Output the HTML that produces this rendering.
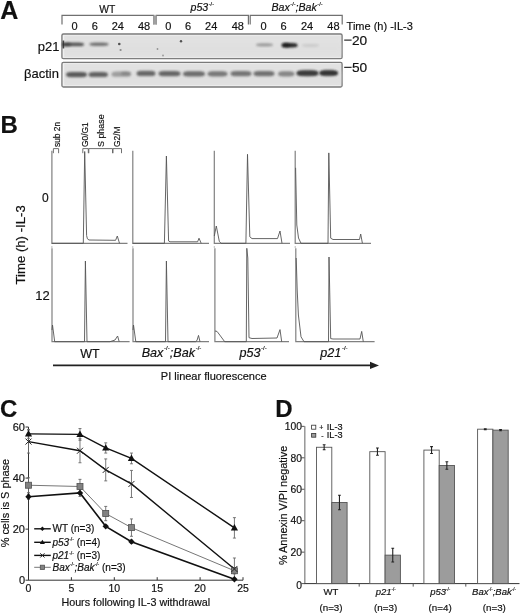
<!DOCTYPE html>
<html><head><meta charset="utf-8"><style>
html,body{margin:0;padding:0;background:#fff;}
svg{display:block;will-change:transform;}
text{font-family:"Liberation Sans",sans-serif;fill:#111;stroke:#111;stroke-width:0.18px;}
</style></head><body>
<svg width="520" height="614" viewBox="0 0 520 614">
<defs><filter id="blur1" x="-50%" y="-50%" width="200%" height="200%"><feGaussianBlur stdDeviation="1.1"/></filter><filter id="blur2" x="-10%" y="-50%" width="120%" height="200%"><feGaussianBlur stdDeviation="2"/></filter><filter id="blur05" x="-50%" y="-50%" width="200%" height="200%"><feGaussianBlur stdDeviation="0.5"/></filter></defs>
<rect width="520" height="614" fill="#fff"/>
<text x="0.3" y="18.9" font-size="25" font-weight="bold">A</text>
<text x="107.3" y="12.6" font-size="10.3" text-anchor="middle">WT</text>
<text x="190.5" y="10.8" font-size="10.6" font-style="italic">p53<tspan font-size="5.5" dx="0.6" dy="-5" font-style="normal">-/-</tspan></text>
<text x="271.5" y="10.8" font-size="10.6" font-style="italic">Bax<tspan font-size="5.5" dx="0.6" dy="-5" font-style="normal">-/-</tspan><tspan dy="5">;Bak</tspan><tspan font-size="5.5" dx="0.6" dy="-5" font-style="normal">-/-</tspan></text>
<path d="M62,24.4 V15.4 H153.8 V24.4" stroke="#707070" stroke-width="1.2" fill="none"/>
<path d="M156.2,24.4 V15.4 H248.4 V24.4" stroke="#707070" stroke-width="1.2" fill="none"/>
<path d="M250.2,24.4 V15.4 H342.2 V24.4" stroke="#707070" stroke-width="1.2" fill="none"/>
<rect x="153.2" y="15.5" width="3.6" height="9" fill="#a0a0a0"/>
<text x="74.6" y="30" font-size="11" text-anchor="middle">0</text>
<text x="94.7" y="30" font-size="11" text-anchor="middle">6</text>
<text x="117.8" y="30" font-size="11" text-anchor="middle">24</text>
<text x="144" y="30" font-size="11" text-anchor="middle">48</text>
<text x="168.2" y="30" font-size="11" text-anchor="middle">0</text>
<text x="188.1" y="30" font-size="11" text-anchor="middle">6</text>
<text x="211.2" y="30" font-size="11" text-anchor="middle">24</text>
<text x="237.8" y="30" font-size="11" text-anchor="middle">48</text>
<text x="263.5" y="30" font-size="11" text-anchor="middle">0</text>
<text x="283.5" y="30" font-size="11" text-anchor="middle">6</text>
<text x="307" y="30" font-size="11" text-anchor="middle">24</text>
<text x="333.4" y="30" font-size="11" text-anchor="middle">48</text>
<text x="346.6" y="30.2" font-size="11">Time (h) -IL-3</text>
<text x="59.4" y="51.3" font-size="13" text-anchor="end">p21</text>
<text x="58.9" y="78.3" font-size="13" text-anchor="end">&#946;actin</text>
<path d="M344.2,40.2 H351.6 M344.2,67.3 H351.6" stroke="#333" stroke-width="1.2"/>
<text x="352" y="44.6" font-size="13.7">20</text>
<text x="352" y="72.4" font-size="13.7">50</text>
<rect x="61.9" y="34.0" width="280.2" height="24.7" rx="1.5" fill="#e2e2e2" stroke="#7a7a7a" stroke-width="1.3"/>
<rect x="63.2" y="35.199999999999996" width="1" height="22.299999999999997" fill="#f6f6f6"/>
<rect x="63.5" y="34.9" width="277" height="0.8" fill="#f2f2f2" opacity="0.8"/>
<rect x="63.5" y="56.9" width="277" height="0.8" fill="#f2f2f2" opacity="0.8"/>
<rect x="64" y="42.464999999999996" width="277" height="12.95" fill="#ddd" opacity="0.5" filter="url(#blur2)"/>
<rect x="61.9" y="62.4" width="280.2" height="24.599999999999998" rx="1.5" fill="#e2e2e2" stroke="#7a7a7a" stroke-width="1.3"/>
<rect x="63.2" y="63.599999999999994" width="1" height="22.199999999999996" fill="#f6f6f6"/>
<rect x="63.5" y="63.3" width="277" height="0.8" fill="#f2f2f2" opacity="0.8"/>
<rect x="63.5" y="85.19999999999999" width="277" height="0.8" fill="#f2f2f2" opacity="0.8"/>
<rect x="64" y="70.83" width="277" height="12.899999999999999" fill="#ddd" opacity="0.5" filter="url(#blur2)"/>
<rect x="62" y="42.6" width="22" height="3.6" rx="5" ry="1.8" fill="#222" opacity="0.7" filter="url(#blur1)"/>
<rect x="89.5" y="42.5" width="19.0" height="3.4" rx="5" ry="1.7" fill="#222" opacity="0.56" filter="url(#blur1)"/>
<rect x="256" y="43.199999999999996" width="17" height="3.2" rx="5" ry="1.6" fill="#222" opacity="0.35" filter="url(#blur1)"/>
<rect x="282" y="43.0" width="15.5" height="4.4" rx="5" ry="2.2" fill="#222" opacity="0.95" filter="url(#blur1)"/>
<rect x="302" y="44.1" width="17" height="2.8" rx="5" ry="1.4" fill="#222" opacity="0.1" filter="url(#blur1)"/>
<ellipse cx="285.5" cy="45.2" rx="4" ry="2.4" fill="#111" opacity="0.5" filter="url(#blur1)"/>
<ellipse cx="67" cy="44.5" rx="4" ry="2" fill="#111" opacity="0.35" filter="url(#blur1)"/>
<circle cx="119.3" cy="44" r="1.3" fill="#222" opacity="0.75" filter="url(#blur05)"/>
<circle cx="120.6" cy="50" r="1.1" fill="#222" opacity="0.45" filter="url(#blur05)"/>
<circle cx="157.5" cy="49" r="0.9" fill="#222" opacity="0.4" filter="url(#blur05)"/>
<circle cx="163" cy="55.6" r="1.0" fill="#222" opacity="0.35" filter="url(#blur05)"/>
<circle cx="181" cy="41.3" r="1.2" fill="#222" opacity="0.75" filter="url(#blur05)"/>
<rect x="62.6" y="40.5" width="1.6" height="8" fill="#222" opacity="0.8" filter="url(#blur05)"/>
<rect x="66.0" y="72.0" width="21.0" height="5.2" rx="5" ry="2.6" fill="#222" opacity="0.7" filter="url(#blur1)"/>
<rect x="88.5" y="71.9" width="19.5" height="5.2" rx="5" ry="2.6" fill="#222" opacity="0.66" filter="url(#blur1)"/>
<rect x="111.5" y="71.60000000000001" width="19.5" height="5.2" rx="5" ry="2.6" fill="#222" opacity="0.34" filter="url(#blur1)"/>
<rect x="136.5" y="70.80000000000001" width="19" height="5.2" rx="5" ry="2.6" fill="#222" opacity="0.63" filter="url(#blur1)"/>
<rect x="158.5" y="71.0" width="22" height="5.2" rx="5" ry="2.6" fill="#222" opacity="0.64" filter="url(#blur1)"/>
<rect x="183.0" y="71.2" width="22.0" height="5.2" rx="5" ry="2.6" fill="#222" opacity="0.6" filter="url(#blur1)"/>
<rect x="207.5" y="71.2" width="20" height="5.2" rx="5" ry="2.6" fill="#222" opacity="0.54" filter="url(#blur1)"/>
<rect x="230.5" y="71.0" width="21" height="5.2" rx="5" ry="2.6" fill="#222" opacity="0.56" filter="url(#blur1)"/>
<rect x="253.5" y="71.0" width="21" height="5.2" rx="5" ry="2.6" fill="#222" opacity="0.58" filter="url(#blur1)"/>
<rect x="278.0" y="71.2" width="16.5" height="5.2" rx="5" ry="2.6" fill="#222" opacity="0.47" filter="url(#blur1)"/>
<rect x="296.5" y="70.60000000000001" width="22" height="5.2" rx="5" ry="2.6" fill="#222" opacity="0.8" filter="url(#blur1)"/>
<rect x="319.5" y="70.4" width="18.5" height="5.2" rx="5" ry="2.6" fill="#222" opacity="0.86" filter="url(#blur1)"/>
<ellipse cx="307.5" cy="73.2" rx="10" ry="3.3" fill="#222" opacity="0.35" filter="url(#blur1)"/>
<ellipse cx="328.5" cy="73.0" rx="9" ry="3.3" fill="#222" opacity="0.4" filter="url(#blur1)"/>
<ellipse cx="126" cy="73.3" rx="5" ry="2" fill="#222" opacity="0.2" filter="url(#blur1)"/>
<text x="0.5" y="132.8" font-size="24" font-weight="bold">B</text>
<text transform="translate(60.4,147) rotate(-90)" font-size="8.4">sub 2n</text>
<text transform="translate(88.4,147) rotate(-90)" font-size="8.4">G0/G1</text>
<text transform="translate(103.6,147) rotate(-90)" font-size="8.9">S phase</text>
<text transform="translate(120.4,147) rotate(-90)" font-size="8.4">G2/M</text>
<path d="M53.4,153.2 V148.6 H58.6 V153.2" stroke="#606060" stroke-width="0.9" fill="none"/>
<path d="M82.8,153.2 V148.6 H88.3 V153.2" stroke="#606060" stroke-width="0.9" fill="none"/>
<path d="M88.8,153.2 V148.6 H112.5 V153.2" stroke="#606060" stroke-width="0.9" fill="none"/>
<path d="M113,153.2 V148.6 H121.5 V153.2" stroke="#606060" stroke-width="0.9" fill="none"/>
<text transform="translate(25.2,284.6) rotate(-90)" font-size="13.2">Time (h) -IL-3</text>
<text x="45.3" y="202" font-size="12" text-anchor="middle">0</text>
<text x="42.4" y="300.2" font-size="13" text-anchor="middle">12</text>
<path d="M51.9,150.8 V243.3 H127.5" stroke="#808080" stroke-width="1.2" fill="none"/>
<path d="M51.9,243.3 L83.3,243.3 L84.7,151.5 L86.6,235.5 L87.4,238.8 L89,240 L115.6,240.3 L117.3,236 L118.9,241.3 L119.5,243.3" stroke="#555" stroke-width="0.9" fill="none"/>
<path d="M132.8,150.8 V243.3 H209" stroke="#808080" stroke-width="1.2" fill="none"/>
<path d="M132.8,243.3 L164.4,243.3 L166.4,156 L168.6,241 L170,241.8 L197.6,241.8 L199,238.2 L201.2,243.3" stroke="#555" stroke-width="0.9" fill="none"/>
<path d="M214.3,150.8 V243.3 H290" stroke="#808080" stroke-width="1.2" fill="none"/>
<path d="M214.3,236 L216.3,226 L219.3,241.3 L221,243.3 L245.9,243.3 L247.5,154.3 L249.8,236.8 L252,238.6 L277.5,238.6 L280,231 L282,243.3" stroke="#555" stroke-width="0.9" fill="none"/>
<path d="M295.2,150.8 V243.3 H371" stroke="#808080" stroke-width="1.2" fill="none"/>
<path d="M295.6,167.8 L296.8,225 L298.5,238 L301,243.3 L328,243.3 L328.8,152.9 L330.7,238.2 L333,239.5 L359.5,239.5 L360.7,234 L362.4,243.3" stroke="#555" stroke-width="0.9" fill="none"/>
<path d="M52,248.3 V341.7 H129.6" stroke="#808080" stroke-width="1.2" fill="none"/>
<path d="M52,330 L52.5,325 L54.7,341.7 L84.5,341.7 L85.4,261 L87,341.7 L110,341.7 L115,340 L117.6,336 L119.2,341.7" stroke="#555" stroke-width="0.9" fill="none"/>
<path d="M133,248.3 V341.7 H209" stroke="#808080" stroke-width="1.2" fill="none"/>
<path d="M133,330 L133.5,325 L135.8,341.7 L165.5,341.7 L166.4,261 L168,341.7 L195.5,341.7 L197,340.5 L198.5,335.4 L200,341.7" stroke="#555" stroke-width="0.9" fill="none"/>
<path d="M214.9,248.3 V341.7 H289" stroke="#808080" stroke-width="1.2" fill="none"/>
<path d="M215,331 L217,331.4 L219,334 L224.7,341.7 L246.3,341.7 L246.8,248.3 L247.8,258 L249,337.7 L252,338.5 L277,338 L280,329.6 L281.7,341.7" stroke="#555" stroke-width="0.9" fill="none"/>
<path d="M295.8,248.3 V341.7 H374.6" stroke="#808080" stroke-width="1.2" fill="none"/>
<path d="M296.2,258 L297.2,290 L298.4,315 L301,336.8 L304,341.7 L328.5,341.7 L329,257 L330.7,338.6 L333,339 L360,339 L361.7,331.4 L363.3,341.7" stroke="#555" stroke-width="0.9" fill="none"/>
<path d="M51.9,246 V248" stroke="#aaa" stroke-width="0.8"/>
<path d="M132.8,246 V248" stroke="#aaa" stroke-width="0.8"/>
<path d="M214.3,246 V248" stroke="#aaa" stroke-width="0.8"/>
<path d="M295.2,246 V248" stroke="#aaa" stroke-width="0.8"/>
<text x="90" y="357.7" font-size="12.5" text-anchor="middle">WT</text>
<text x="141.7" y="357.4" font-size="12.6" font-style="italic">Bax<tspan font-size="6" dx="0.7" dy="-7.5" font-style="normal">-/-</tspan><tspan dy="7.5">;Bak</tspan><tspan font-size="6" dx="0.7" dy="-7.5" font-style="normal">-/-</tspan></text>
<text x="239.4" y="357.4" font-size="12.6" font-style="italic">p53<tspan font-size="6" dx="0.7" dy="-7.5" font-style="normal">-/-</tspan></text>
<text x="320.2" y="357.4" font-size="12.6" font-style="italic">p21<tspan font-size="6" dx="0.7" dy="-7.5" font-style="normal">-/-</tspan></text>
<path d="M53,365.4 H372" stroke="#222" stroke-width="1.6"/>
<path d="M370,361.8 L379,365.4 L370,369 Z" fill="#222"/>
<text x="160.8" y="380.3" font-size="11">PI linear fluorescence</text>
<text x="0" y="417.2" font-size="24" font-weight="bold">C</text>
<path d="M28.5,427.02000000000004 V580.2 H243.0" stroke="#333" stroke-width="1" fill="none"/>
<path d="M25.5,580.2 H28.5" stroke="#333" stroke-width="1"/>
<text x="25.0" y="583.8000000000001" font-size="11" text-anchor="end">0</text>
<path d="M25.5,529.1400000000001 H28.5" stroke="#333" stroke-width="1"/>
<text x="25.0" y="532.7400000000001" font-size="11" text-anchor="end">20</text>
<path d="M25.5,478.08000000000004 H28.5" stroke="#333" stroke-width="1"/>
<text x="25.0" y="481.68000000000006" font-size="11" text-anchor="end">40</text>
<path d="M25.5,427.02000000000004 H28.5" stroke="#333" stroke-width="1"/>
<text x="25.0" y="430.62000000000006" font-size="11" text-anchor="end">60</text>
<path d="M28.5,580.2 V577.2" stroke="#333" stroke-width="1"/>
<text x="28.5" y="592.2" font-size="10.5" text-anchor="middle">0</text>
<path d="M71.4,580.2 V577.2" stroke="#333" stroke-width="1"/>
<text x="71.4" y="592.2" font-size="10.5" text-anchor="middle">5</text>
<path d="M114.3,580.2 V577.2" stroke="#333" stroke-width="1"/>
<text x="114.3" y="592.2" font-size="10.5" text-anchor="middle">10</text>
<path d="M157.2,580.2 V577.2" stroke="#333" stroke-width="1"/>
<text x="157.2" y="592.2" font-size="10.5" text-anchor="middle">15</text>
<path d="M200.1,580.2 V577.2" stroke="#333" stroke-width="1"/>
<text x="200.1" y="592.2" font-size="10.5" text-anchor="middle">20</text>
<path d="M243.0,580.2 V577.2" stroke="#333" stroke-width="1"/>
<text x="243.0" y="592.2" font-size="10.5" text-anchor="middle">25</text>
<text x="61.4" y="606.4" font-size="10.75">Hours following IL-3 withdrawal</text>
<text transform="translate(9.2,547.3) rotate(-90)" font-size="10.9">% cells is S phase</text>
<path d="M28.5,429.57300000000004 V438.25320000000005 M27.0,429.57300000000004 H30.0 M27.0,438.25320000000005 H30.0" stroke="#6a6a6a" stroke-width="0.9"/>
<path d="M79.98,428.55180000000007 V440.29560000000004 M78.48,428.55180000000007 H81.48 M78.48,440.29560000000004 H81.48" stroke="#6a6a6a" stroke-width="0.9"/>
<path d="M105.72,442.84860000000003 V453.0606 M104.22,442.84860000000003 H107.22 M104.22,453.0606 H107.22" stroke="#6a6a6a" stroke-width="0.9"/>
<path d="M131.46,453.0606 V463.7832000000001 M129.96,453.0606 H132.96 M129.96,463.7832000000001 H132.96" stroke="#6a6a6a" stroke-width="0.9"/>
<path d="M234.42000000000002,517.6515 V538.0755 M232.92000000000002,517.6515 H235.92000000000002 M232.92000000000002,538.0755 H235.92000000000002" stroke="#6a6a6a" stroke-width="0.9"/>
<path d="M28.5,430.08360000000005 V453.0606 M27.0,430.08360000000005 H30.0 M27.0,453.0606 H30.0" stroke="#6a6a6a" stroke-width="0.9"/>
<path d="M79.98,438.76380000000006 V462.76200000000006 M78.48,438.76380000000006 H81.48 M78.48,462.76200000000006 H81.48" stroke="#6a6a6a" stroke-width="0.9"/>
<path d="M105.72,458.93250000000006 V480.8883 M104.22,458.93250000000006 H107.22 M104.22,480.8883 H107.22" stroke="#6a6a6a" stroke-width="0.9"/>
<path d="M131.46,470.42100000000005 V497.48280000000005 M129.96,470.42100000000005 H132.96 M129.96,497.48280000000005 H132.96" stroke="#6a6a6a" stroke-width="0.9"/>
<path d="M234.42000000000002,557.9889000000001 V579.9447 M232.92000000000002,557.9889000000001 H235.92000000000002 M232.92000000000002,579.9447 H235.92000000000002" stroke="#6a6a6a" stroke-width="0.9"/>
<path d="M28.5,477.82470000000006 V492.63210000000004 M27.0,477.82470000000006 H30.0 M27.0,492.63210000000004 H30.0" stroke="#6a6a6a" stroke-width="0.9"/>
<path d="M79.98,479.35650000000004 V493.65330000000006 M78.48,479.35650000000004 H81.48 M78.48,493.65330000000006 H81.48" stroke="#6a6a6a" stroke-width="0.9"/>
<path d="M105.72,506.41830000000004 V520.7151 M104.22,506.41830000000004 H107.22 M104.22,520.7151 H107.22" stroke="#6a6a6a" stroke-width="0.9"/>
<path d="M131.46,518.928 V536.2884 M129.96,518.928 H132.96 M129.96,536.2884 H132.96" stroke="#6a6a6a" stroke-width="0.9"/>
<path d="M234.42000000000002,567.6903000000001 V573.8175 M232.92000000000002,567.6903000000001 H235.92000000000002 M232.92000000000002,573.8175 H235.92000000000002" stroke="#6a6a6a" stroke-width="0.9"/>
<path d="M28.5,494.1639 V499.2699 M27.0,494.1639 H30.0 M27.0,499.2699 H30.0" stroke="#6a6a6a" stroke-width="0.9"/>
<path d="M79.98,489.31320000000005 V496.46160000000003 M78.48,489.31320000000005 H81.48 M78.48,496.46160000000003 H81.48" stroke="#6a6a6a" stroke-width="0.9"/>
<path d="M105.72,525.0552 V527.6082 M104.22,525.0552 H107.22 M104.22,527.6082 H107.22" stroke="#6a6a6a" stroke-width="0.9"/>
<path d="M131.46,540.1179000000001 V543.1815 M129.96,540.1179000000001 H132.96 M129.96,543.1815 H132.96" stroke="#6a6a6a" stroke-width="0.9"/>
<path d="M234.42000000000002,578.4129 V579.9447 M232.92000000000002,578.4129 H235.92000000000002 M232.92000000000002,579.9447 H235.92000000000002" stroke="#6a6a6a" stroke-width="0.9"/>
<path d="M28.50,485.23 L79.98,486.50 L105.72,513.57 L131.46,527.61 L234.42,570.75" stroke="#777" stroke-width="1.0" fill="none"/>
<path d="M28.50,441.57 L79.98,450.76 L105.72,469.91 L131.46,483.95 L234.42,568.97" stroke="#111" stroke-width="1.4" fill="none"/>
<path d="M28.50,433.91 L79.98,434.42 L105.72,447.95 L131.46,458.42 L234.42,527.86" stroke="#111" stroke-width="1.4" fill="none"/>
<path d="M28.50,496.72 L79.98,492.89 L105.72,526.33 L131.46,541.65 L234.42,579.18" stroke="#111" stroke-width="1.6" fill="none"/>
<rect x="25.5" y="482.2284" width="6.0" height="6.0" fill="#828282" stroke="#505050" stroke-width="0.8"/>
<rect x="76.98" y="483.5049" width="6.0" height="6.0" fill="#828282" stroke="#505050" stroke-width="0.8"/>
<rect x="102.72" y="510.5667000000001" width="6.0" height="6.0" fill="#828282" stroke="#505050" stroke-width="0.8"/>
<rect x="128.46" y="524.6082" width="6.0" height="6.0" fill="#828282" stroke="#505050" stroke-width="0.8"/>
<rect x="231.42000000000002" y="567.7539" width="6.0" height="6.0" fill="#828282" stroke="#505050" stroke-width="0.8"/>
<path d="M25.5,438.5721000000001 L31.5,444.5721000000001 M25.5,444.5721000000001 L31.5,438.5721000000001" stroke="#222" stroke-width="1"/>
<path d="M76.98,447.76290000000006 L82.98,453.76290000000006 M76.98,453.76290000000006 L82.98,447.76290000000006" stroke="#222" stroke-width="1"/>
<path d="M102.72,466.91040000000004 L108.72,472.91040000000004 M102.72,472.91040000000004 L108.72,466.91040000000004" stroke="#222" stroke-width="1"/>
<path d="M128.46,480.9519 L134.46,486.9519 M128.46,486.9519 L134.46,480.9519" stroke="#222" stroke-width="1"/>
<path d="M231.42000000000002,565.9668 L237.42000000000002,571.9668 M231.42000000000002,571.9668 L237.42000000000002,565.9668" stroke="#222" stroke-width="1"/>
<path d="M28.5,430.11310000000003 L32.1,436.51310000000007 L24.9,436.51310000000007 Z" fill="#111"/>
<path d="M79.98,430.62370000000004 L83.58,437.0237000000001 L76.38000000000001,437.0237000000001 Z" fill="#111"/>
<path d="M105.72,444.1546 L109.32,450.55460000000005 L102.12,450.55460000000005 Z" fill="#111"/>
<path d="M131.46,454.62190000000004 L135.06,461.0219000000001 L127.86000000000001,461.0219000000001 Z" fill="#111"/>
<path d="M234.42000000000002,524.0635000000001 L238.02,530.4635000000001 L230.82000000000002,530.4635000000001 Z" fill="#111"/>
<path d="M28.5,493.5169 L31.7,496.7169 L28.5,499.9169 L25.3,496.7169 Z" fill="#111"/>
<path d="M79.98,489.6874000000001 L83.18,492.88740000000007 L79.98,496.08740000000006 L76.78,492.88740000000007 Z" fill="#111"/>
<path d="M105.72,523.1317 L108.92,526.3317000000001 L105.72,529.5317000000001 L102.52,526.3317000000001 Z" fill="#111"/>
<path d="M131.46,538.4497 L134.66,541.6497 L131.46,544.8497000000001 L128.26000000000002,541.6497 Z" fill="#111"/>
<path d="M234.42000000000002,575.9788 L237.62,579.1788 L234.42000000000002,582.3788000000001 L231.22000000000003,579.1788 Z" fill="#111"/>
<path d="M34.2,528.8 H50.8" stroke="#111" stroke-width="1.4"/>
<path d="M42.4,526.56 L44.64,528.8 L42.4,531.04 L40.16,528.8 Z" fill="#111"/>
<text x="52.5" y="532.4" font-size="10"><tspan>WT (n=3)</tspan></text>
<path d="M34.2,542.3 H50.8" stroke="#111" stroke-width="1.4"/>
<path d="M42.4,539.64 L44.92,544.12 L39.879999999999995,544.12 Z" fill="#111"/>
<text x="52.5" y="545.9" font-size="10"><tspan font-style="italic">p53</tspan><tspan font-size="5" dy="-4.5">-/-</tspan><tspan dy="4.5"> (n=4)</tspan></text>
<path d="M34.2,555.4 H50.8" stroke="#111" stroke-width="1.4"/>
<path d="M40.3,553.3 L44.5,557.5 M40.3,557.5 L44.5,553.3" stroke="#222" stroke-width="1"/>
<text x="52.5" y="559.0" font-size="10"><tspan font-style="italic">p21</tspan><tspan font-size="5" dy="-4.5">-/-</tspan><tspan dy="4.5"> (n=3)</tspan></text>
<path d="M34.2,567.3 H50.8" stroke="#777" stroke-width="1.0"/>
<rect x="40.3" y="565.1999999999999" width="4.199999999999999" height="4.199999999999999" fill="#828282" stroke="#505050" stroke-width="0.8"/>
<text x="52.5" y="570.9" font-size="10"><tspan font-style="italic">Bax</tspan><tspan font-size="5" dy="-4.5">-/-</tspan><tspan dy="4.5" font-style="italic">;Bak</tspan><tspan font-size="5" dy="-4.5">-/-</tspan><tspan dy="4.5"> (n=3)</tspan></text>
<text x="275.3" y="417.2" font-size="24" font-weight="bold">D</text>
<path d="M304.8,426.35 V583.6" stroke="#909090" stroke-width="1.4" fill="none"/>
<path d="M304.0,583.6 H519.5" stroke="#333" stroke-width="1" fill="none"/>
<path d="M301.5,583.6 H304.5" stroke="#555" stroke-width="1"/>
<text x="302.0" y="588.8000000000001" font-size="10.3" text-anchor="end">0</text>
<path d="M301.5,552.15 H304.5" stroke="#555" stroke-width="1"/>
<text x="302.0" y="555.85" font-size="10.3" text-anchor="end">20</text>
<path d="M301.5,520.7 H304.5" stroke="#555" stroke-width="1"/>
<text x="302.0" y="524.4000000000001" font-size="10.3" text-anchor="end">40</text>
<path d="M301.5,489.25 H304.5" stroke="#555" stroke-width="1"/>
<text x="302.0" y="492.95" font-size="10.3" text-anchor="end">60</text>
<path d="M301.5,457.8 H304.5" stroke="#555" stroke-width="1"/>
<text x="302.0" y="461.5" font-size="10.3" text-anchor="end">80</text>
<path d="M301.5,426.35 H304.5" stroke="#555" stroke-width="1"/>
<text x="302.0" y="430.05" font-size="10.3" text-anchor="end">100</text>
<path d="M359.2,583.6 V586.6" stroke="#555" stroke-width="1"/>
<path d="M413.2,583.6 V586.6" stroke="#555" stroke-width="1"/>
<path d="M465.8,583.6 V586.6" stroke="#555" stroke-width="1"/>
<text transform="translate(287,565) rotate(-90)" font-size="10.9">% Annexin V/PI negative</text>
<rect x="316.5" y="447.26425" width="15.3" height="136.33575000000002" fill="#fff" stroke="#555" stroke-width="0.9"/>
<rect x="331.8" y="502.459" width="15.3" height="81.14100000000002" fill="#9c9c9c" stroke="#555" stroke-width="0.9"/>
<path d="M324.15000000000003,444.74825 V449.78025 M322.75000000000006,444.74825 H325.55 M322.75000000000006,449.78025 H325.55" stroke="#222" stroke-width="1.1"/>
<path d="M339.45,495.2255 V509.6925 M338.05,495.2255 H340.84999999999997 M338.05,509.6925 H340.84999999999997" stroke="#222" stroke-width="1.1"/>
<rect x="369.8" y="451.66725" width="15.3" height="131.93275" fill="#fff" stroke="#555" stroke-width="0.9"/>
<rect x="385.1" y="555.13775" width="15.3" height="28.46225000000004" fill="#9c9c9c" stroke="#555" stroke-width="0.9"/>
<path d="M377.45000000000005,448.05050000000006 V455.284 M376.05000000000007,448.05050000000006 H378.85 M376.05000000000007,455.284 H378.85" stroke="#222" stroke-width="1.1"/>
<path d="M392.75,548.21875 V562.05675 M391.35,548.21875 H394.15 M391.35,562.05675 H394.15" stroke="#222" stroke-width="1.1"/>
<rect x="423.9" y="450.09475" width="15.3" height="133.50525000000005" fill="#fff" stroke="#555" stroke-width="0.9"/>
<rect x="439.2" y="465.50525000000005" width="15.3" height="118.09474999999998" fill="#9c9c9c" stroke="#555" stroke-width="0.9"/>
<path d="M431.55,446.63525000000004 V453.55425 M430.15000000000003,446.63525000000004 H432.95 M430.15000000000003,453.55425 H432.95" stroke="#222" stroke-width="1.1"/>
<path d="M446.84999999999997,461.73125000000005 V469.27925000000005 M445.45,461.73125000000005 H448.24999999999994 M445.45,469.27925000000005 H448.24999999999994" stroke="#222" stroke-width="1.1"/>
<rect x="477.59999999999997" y="429.18050000000005" width="15.3" height="154.41949999999997" fill="#fff" stroke="#555" stroke-width="0.9"/>
<rect x="492.9" y="430.124" width="15.3" height="153.476" fill="#9c9c9c" stroke="#555" stroke-width="0.9"/>
<path d="M485.25,428.70875 V429.65225 M483.85,428.70875 H486.65 M483.85,429.65225 H486.65" stroke="#222" stroke-width="1.1"/>
<path d="M500.54999999999995,429.495 V430.75300000000004 M499.15,429.495 H501.94999999999993 M499.15,430.75300000000004 H501.94999999999993" stroke="#222" stroke-width="1.1"/>
<text x="331" y="595.4" font-size="9.5" text-anchor="middle"><tspan>WT</tspan></text>
<text x="385.7" y="595.4" font-size="9.5" text-anchor="middle"><tspan font-style="italic">p21</tspan><tspan font-size="4.5" dy="-4">-/-</tspan></text>
<text x="440.2" y="595.4" font-size="9.5" text-anchor="middle"><tspan font-style="italic">p53</tspan><tspan font-size="4.5" dy="-4">-/-</tspan></text>
<text x="494" y="595.4" font-size="9.5" text-anchor="middle"><tspan font-style="italic">Bax</tspan><tspan font-size="4.5" dy="-4">-/-</tspan><tspan dy="4" font-style="italic">;Bak</tspan><tspan font-size="4.5" dy="-4">-/-</tspan></text>
<text x="331" y="611" font-size="9.8" text-anchor="middle">(n=3)</text>
<text x="385.7" y="611" font-size="9.8" text-anchor="middle">(n=3)</text>
<text x="440.2" y="611" font-size="9.8" text-anchor="middle">(n=4)</text>
<text x="494.3" y="611" font-size="9.8" text-anchor="middle">(n=3)</text>
<rect x="311.6" y="425.2" width="4.2" height="4" fill="#fff" stroke="#333" stroke-width="0.8"/>
<rect x="311.6" y="433.4" width="4.2" height="3.8" fill="#9c9c9c" stroke="#333" stroke-width="0.8"/>
<text x="319.2" y="430.2" font-size="7">+</text>
<text x="326.8" y="430.1" font-size="9.2">IL-3</text>
<text x="321.3" y="437.6" font-size="7">-</text>
<text x="326.8" y="438.2" font-size="9.2">IL-3</text>
</svg>
</body></html>
